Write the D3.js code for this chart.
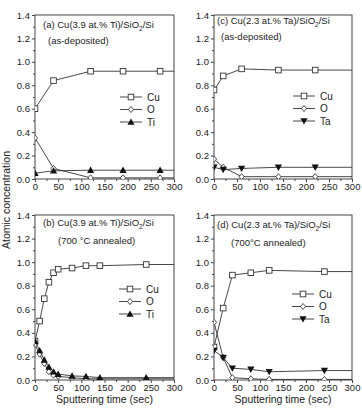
<!DOCTYPE html>
<html><head><meta charset="utf-8">
<script src="https://cdn.jsdelivr.net/npm/d3@7"></script>
<style>body{margin:0;background:#fff}svg{display:block}text{font-family:Arial,"Liberation Sans",sans-serif;fill:#222}</style>
</head><body><div id="chart"></div>
<script>
// ---- data ----
const yTicks = [0, 0.2, 0.4, 0.6, 0.8, 1.0, 1.2, 1.4];
const xTicks = [0, 50, 100, 150, 200, 250, 300];

const aCuX = [0, 40, 120, 190, 270], aCuY = [0.60, 0.84, 0.92, 0.92, 0.92];
const aOX  = [0, 40, 120, 190, 270], aOY  = [0.35, 0.09, 0.01, 0.01, 0.01];
const aTiX = [0, 40, 120, 190, 270], aTiY = [0.05, 0.07, 0.075, 0.075, 0.075];

const bCuX = [0, 10, 20, 30, 40, 50, 80, 110, 140, 240], bCuY = [0.33, 0.50, 0.69, 0.83, 0.91, 0.94, 0.95, 0.97, 0.97, 0.98];
const bOX  = [0, 10, 20, 30, 40, 50, 80, 110, 140, 240], bOY  = [0.30, 0.22, 0.14, 0.07, 0.04, 0.03, 0.02, 0.01, 0.01, 0.01];
const bTiX = [0, 10, 20, 30, 40, 50, 80, 110, 140, 240], bTiY = [0.33, 0.25, 0.17, 0.11, 0.07, 0.05, 0.035, 0.03, 0.02, 0.02];

const cCuX = [0, 20, 60, 140, 220], cCuY = [0.76, 0.88, 0.94, 0.93, 0.93];
const cOX  = [0, 20, 60, 140, 220], cOY  = [0.17, 0.10, 0.02, 0.02, 0.02];
const cTaX = [0, 20, 60, 140, 220], cTaY = [0.10, 0.08, 0.09, 0.10, 0.10];

const dCuX = [0, 20, 40, 80, 120, 240], dCuY = [0.28, 0.61, 0.89, 0.91, 0.93, 0.92];
const dOX  = [0, 20, 40, 80, 120, 240], dOY  = [0.49, 0.19, 0.02, 0.01, 0.005, 0.005];
const dTaX = [0, 20, 40, 80, 120, 240], dTaY = [0.25, 0.19, 0.10, 0.09, 0.07, 0.08];

const titles = [
  ["(a)  Cu(3.9 at.% Ti)/SiO", "/Si", "(as-deposited)"],
  ["(b)  Cu(3.9 at.% Ti)/SiO", "/Si", "(700 °C annealed)"],
  ["(c)  Cu(2.3 at.% Ta)/SiO", "/Si", "(as-deposited)"],
  ["(d)  Cu(2.3 at.% Ta)/SiO", "/Si", "(700°C annealed)"]
];
const legendNames = [["Cu", "O", "Ti"], ["Cu", "O", "Ti"], ["Cu", "O", "Ta"], ["Cu", "O", "Ta"]];
const xLabel = "Sputtering time (sec)";
const yLabel = "Atomic concentration";

// ---- layout ----
const W = 362, H = 410;
const svg = d3.select("#chart").append("svg").attr("width", W).attr("height", H);
const panels = [
  {x0: 35, x1: 174, y0: 15, y1: 179, series: [[aCuX, aCuY], [aOX, aOY], [aTiX, aTiY]], legX: 120, legY: 97, sub: [43, 28, 48, 44], xlab: false},
  {x0: 35, x1: 174, y0: 215, y1: 380, series: [[bCuX, bCuY], [bOX, bOY], [bTiX, bTiY]], legX: 119, legY: 289, sub: [43, 226, 58, 244], xlab: true},
  {x0: 214, x1: 352, y0: 15, y1: 179, series: [[cCuX, cCuY], [cOX, cOY], [cTaX, cTaY]], legX: 293, legY: 96, sub: [217, 24, 221, 40], xlab: false},
  {x0: 214, x1: 352, y0: 215, y1: 380, series: [[dCuX, dCuY], [dOX, dOY], [dTaX, dTaY]], legX: 292, legY: 294, sub: [217, 228, 231, 246], xlab: true}
];
const lineColor = "#333";

function drawMarker(g, kind, x, y) {
  if (kind === "Cu") {
    g.append("rect").attr("x", x - 2.8).attr("y", y - 2.8).attr("width", 5.6).attr("height", 5.6)
      .attr("fill", "#fff").attr("stroke", lineColor).attr("stroke-width", 0.9);
  } else if (kind === "O") {
    g.append("path").attr("d", `M${x},${y-3}L${x+2.6},${y}L${x},${y+3}L${x-2.6},${y}Z`)
      .attr("fill", "#fff").attr("stroke", lineColor).attr("stroke-width", 0.9);
  } else if (kind === "Ti") {
    g.append("path").attr("d", `M${x},${y-3.6}L${x+3.6},${y+2.8}L${x-3.6},${y+2.8}Z`).attr("fill", "#111");
  } else {
    g.append("path").attr("d", `M${x},${y+3.6}L${x+3.6},${y-2.8}L${x-3.6},${y-2.8}Z`).attr("fill", "#111");
  }
}

panels.forEach((p, i) => {
  const x = d3.scaleLinear().domain([0, 300]).range([p.x0, p.x1]);
  const y = d3.scaleLinear().domain([0, 1.4]).range([p.y1, p.y0]);
  const g = svg.append("g");
  const clipId = "clip" + i;
  svg.append("clipPath").attr("id", clipId).append("rect")
    .attr("x", p.x0).attr("y", p.y0 - 5).attr("width", p.x1 - p.x0).attr("height", p.y1 - p.y0 + 5);

  // axes
  const yAx = d3.axisLeft(y).tickValues(yTicks).tickFormat(d3.format(".1f")).tickSize(3).tickPadding(2);
  const yMinor = d3.axisLeft(y).tickValues(d3.range(0.1, 1.4, 0.2)).tickFormat("").tickSize(2);
  const xAx = d3.axisBottom(x).tickValues(xTicks).tickFormat(d3.format("d")).tickSize(3).tickPadding(1);
  const xMinor = d3.axisBottom(x).tickValues(d3.range(25, 300, 50)).tickFormat("").tickSize(2);
  [[yAx, `translate(${p.x0},0)`], [yMinor, `translate(${p.x0},0)`], [xAx, `translate(0,${p.y1})`], [xMinor, `translate(0,${p.y1})`]]
    .forEach(([ax, tr]) => {
      const a = g.append("g").attr("transform", tr).call(ax);
      a.select(".domain").remove();
      a.selectAll("line").attr("stroke", "#444");
      a.selectAll("text").style("font-size", "9.5px").attr("fill", "#222");
    });
  g.append("rect").attr("x", p.x0).attr("y", p.y0).attr("width", p.x1 - p.x0).attr("height", p.y1 - p.y0)
    .attr("fill", "none").attr("stroke", "#444").attr("stroke-width", 1);

  // series
  const names = legendNames[i];
  const sg = g.append("g").attr("clip-path", `url(#${clipId})`);
  p.series.forEach(([xs, ys], k) => {
    const pts = xs.map((v, j) => [v, ys[j]]);
    const ext = pts.concat([[x.domain()[1], ys[ys.length - 1]]]);
    sg.append("path").datum(ext)
      .attr("d", d3.line().x(d => x(d[0])).y(d => y(d[1])))
      .attr("fill", "none").attr("stroke", lineColor).attr("stroke-width", 0.9);
    pts.forEach(d => drawMarker(sg, names[k], x(d[0]), y(d[1])));
  });

  // legend
  names.forEach((n, k) => {
    const ly = p.legY + k * 12.5;
    g.append("line").attr("x1", p.legX).attr("x2", p.legX + 22).attr("y1", ly).attr("y2", ly)
      .attr("stroke", lineColor).attr("stroke-width", 0.9);
    drawMarker(g, n, p.legX + 11, ly);
    g.append("text").attr("x", p.legX + 27).attr("y", ly + 3.5).style("font-size", "10px").text(n);
  });

  // titles
  const t = titles[i];
  const tt = g.append("text").attr("x", p.sub[0]).attr("y", p.sub[1]).style("font-size", "9.5px");
  tt.append("tspan").text(t[0]);
  tt.append("tspan").attr("dy", 2.5).style("font-size", "6.5px").text("2");
  tt.append("tspan").attr("dy", -2.5).text(t[1]);
  g.append("text").attr("x", p.sub[2]).attr("y", p.sub[3]).style("font-size", "9.5px").text(t[2]);

  if (p.xlab) {
    g.append("text").attr("x", (p.x0 + p.x1) / 2).attr("y", 403).attr("text-anchor", "middle")
      .style("font-size", "10.5px").text(xLabel);
  }
});

// shared y label
svg.append("text").attr("transform", "translate(10,200) rotate(-90)").attr("text-anchor", "middle")
  .style("font-size", "10.5px").text(yLabel);
</script>
</body></html>
